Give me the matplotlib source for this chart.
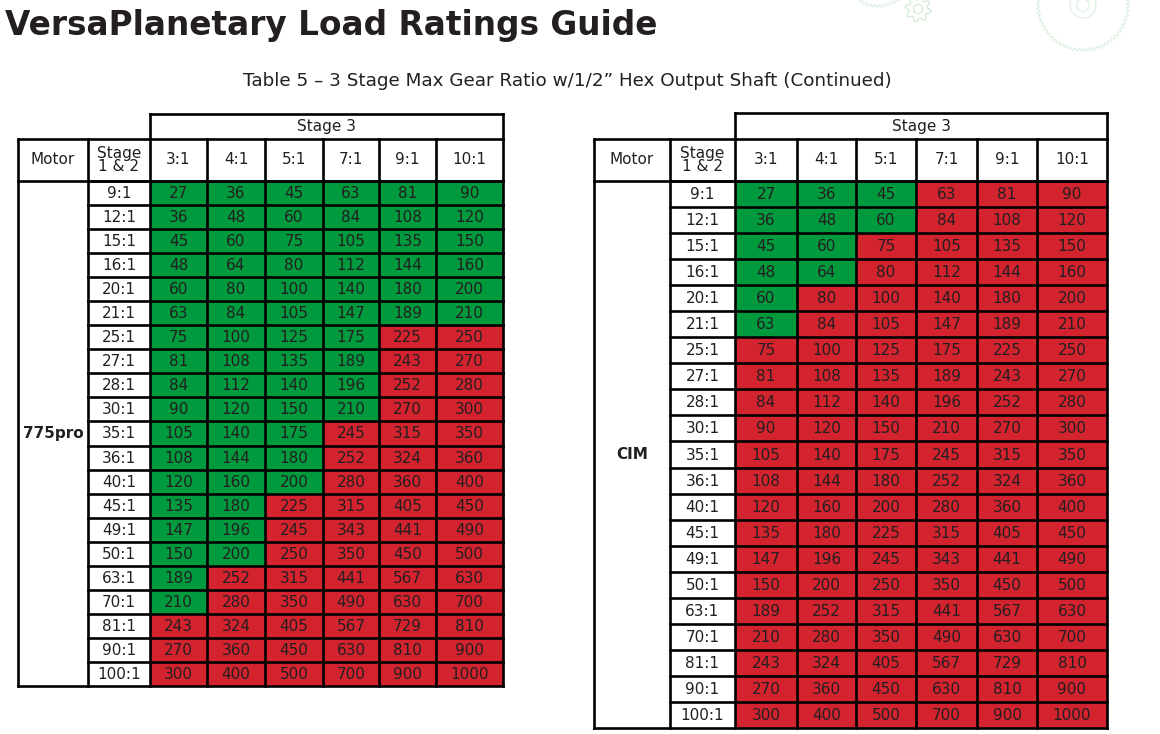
import numpy as np
import matplotlib
matplotlib.use("Agg")
import matplotlib.pyplot as plt
from matplotlib.patches import Rectangle, Polygon

TITLE = "VersaPlanetary Load Ratings Guide"
SUBTITLE = "Table 5 \u2013 3 Stage Max Gear Ratio w/1/2\u201d Hex Output Shaft (Continued)"

STAGE3 = ["3:1", "4:1", "5:1", "7:1", "9:1", "10:1"]
STAGE12 = ["9:1", "12:1", "15:1", "16:1", "20:1", "21:1", "25:1", "27:1", "28:1",
           "30:1", "35:1", "36:1", "40:1", "45:1", "49:1", "50:1", "63:1", "70:1",
           "81:1", "90:1", "100:1"]
LOAD = [
    [27, 36, 45, 63, 81, 90],
    [36, 48, 60, 84, 108, 120],
    [45, 60, 75, 105, 135, 150],
    [48, 64, 80, 112, 144, 160],
    [60, 80, 100, 140, 180, 200],
    [63, 84, 105, 147, 189, 210],
    [75, 100, 125, 175, 225, 250],
    [81, 108, 135, 189, 243, 270],
    [84, 112, 140, 196, 252, 280],
    [90, 120, 150, 210, 270, 300],
    [105, 140, 175, 245, 315, 350],
    [108, 144, 180, 252, 324, 360],
    [120, 160, 200, 280, 360, 400],
    [135, 180, 225, 315, 405, 450],
    [147, 196, 245, 343, 441, 490],
    [150, 200, 250, 350, 450, 500],
    [189, 252, 315, 441, 567, 630],
    [210, 280, 350, 490, 630, 700],
    [243, 324, 405, 567, 729, 810],
    [270, 360, 450, 630, 810, 900],
    [300, 400, 500, 700, 900, 1000],
]
# number of safe (green) stage-3 columns per row, from the left
GREEN_775 = [6, 6, 6, 6, 6, 6, 4, 4, 4, 4, 3, 3, 3, 2, 2, 2, 1, 1, 0, 0, 0]
GREEN_CIM = [3, 3, 2, 2, 1, 1, 0, 0, 0, 0, 0, 0, 0, 0, 0, 0, 0, 0, 0, 0, 0]

GREEN = "#009a3e"
RED = "#d2232e"
INK = "#231f20"
LW = 1.9
FONT = "DejaVu Sans"
FS = 11

fig = plt.figure(figsize=(11.6, 7.34), dpi=100)
ax = fig.add_axes([0, 0, 1, 1])
ax.set_xlim(0, 1160)
ax.set_ylim(734, 0)
ax.axis("off")


def gear(cx, cy, r, teeth, amp, color="#e2f1e4", lw=1.0):
    t = np.linspace(0, 2 * np.pi, 800)
    rr = r + amp * np.sin(teeth * t)
    ax.plot(cx + rr * np.cos(t), cy + rr * np.sin(t), color=color, lw=lw, zorder=0)


def hexagon(cx, cy, r, color="#e2f1e4"):
    a = np.linspace(0, 2 * np.pi, 7)[:-1] + np.pi / 6
    ax.add_patch(Polygon(np.c_[cx + r * np.cos(a), cy + r * np.sin(a)], closed=True,
                         fill=False, ec=color, lw=1.0, zorder=0))


# faint background gears
gear(1083, 5, 45, 64, 1.3)
gear(1083, 5, 13, 1, 0)
hexagon(1083, 5, 7)
gear(918, 9, 11, 8, 2.0, color="#d6ecd9")
hexagon(918, 9, 5, color="#d6ecd9")
gear(878, -28, 34, 48, 1.2)

t = ax.text(5, 26, TITLE, fontsize=28, fontweight="bold", color=INK,
            va="center", ha="left", family=FONT)
fig.canvas.draw()
w = t.get_window_extent().width
t.set_fontsize(28 * 652 / w)

s = ax.text(567, 81, SUBTITLE, fontsize=13.5, color=INK, va="center",
            ha="center", family=FONT)
fig.canvas.draw()
w = s.get_window_extent().width
s.set_fontsize(13.5 * 649 / w)


def table(xe, y0, y1, y2, yb, motor, green):
    n = len(STAGE12)
    rows = np.linspace(y2, yb, n + 1)
    # cell fills
    for i in range(n):
        for j in range(len(STAGE3)):
            c = GREEN if j < green[i] else RED
            ax.add_patch(Rectangle((xe[j + 2], rows[i]), xe[j + 3] - xe[j + 2],
                                   rows[i + 1] - rows[i], fc=c, ec="none", zorder=1))
            ax.text((xe[j + 2] + xe[j + 3]) / 2, (rows[i] + rows[i + 1]) / 2 + 0.5,
                    str(LOAD[i][j]), ha="center", va="center", fontsize=FS,
                    color=INK, family=FONT, zorder=3)
        ax.text((xe[1] + xe[2]) / 2, (rows[i] + rows[i + 1]) / 2 + 0.5, STAGE12[i],
                ha="center", va="center", fontsize=FS, color=INK, family=FONT, zorder=3)
    # header texts
    ax.text((xe[2] + xe[-1]) / 2, (y0 + y1) / 2 + 0.5, "Stage 3", ha="center",
            va="center", fontsize=FS, color=INK, family=FONT)
    ax.text((xe[0] + xe[1]) / 2, (y1 + y2) / 2, "Motor", ha="center", va="center",
            fontsize=FS, color=INK, family=FONT)
    ax.text((xe[1] + xe[2]) / 2, (y1 + y2) / 2, "Stage\n1 & 2", ha="center",
            va="center", fontsize=FS, color=INK, family=FONT, linespacing=0.9)
    for j, lab in enumerate(STAGE3):
        ax.text((xe[j + 2] + xe[j + 3]) / 2, (y1 + y2) / 2, lab, ha="center",
                va="center", fontsize=FS, color=INK, family=FONT)
    ax.text((xe[0] + xe[1]) / 2, (y2 + yb) / 2, motor, ha="center", va="center",
            fontsize=FS, fontweight="bold", color=INK, family=FONT)
    # lines
    kw = dict(color="black", lw=LW, zorder=4, solid_capstyle="projecting")
    ax.plot([xe[2], xe[-1]], [y0, y0], **kw)
    ax.plot([xe[2], xe[2]], [y0, y1], **kw)
    ax.plot([xe[-1], xe[-1]], [y0, y1], **kw)
    ax.plot([xe[0], xe[-1]], [y1, y1], **kw)
    for y in rows:
        ax.plot([xe[1] if y != yb else xe[0], xe[-1]], [y, y], **kw)
    ax.plot([xe[0], xe[0]], [y1, yb], **kw)
    ax.plot([xe[1], xe[1]], [y1, yb], **kw)
    for x in xe[2:]:
        ax.plot([x, x], [y1, yb], **kw)
    ax.plot([xe[0], xe[-1]], [y2, y2], **kw)


table([18, 88, 150, 207, 265, 323, 379, 436, 503], 114, 139, 181, 686,
      "775pro", GREEN_775)
table([594, 670, 735, 797, 856, 916, 977, 1037, 1107], 113, 139, 181, 728,
      "CIM", GREEN_CIM)

fig.savefig("out.png", dpi=100)
